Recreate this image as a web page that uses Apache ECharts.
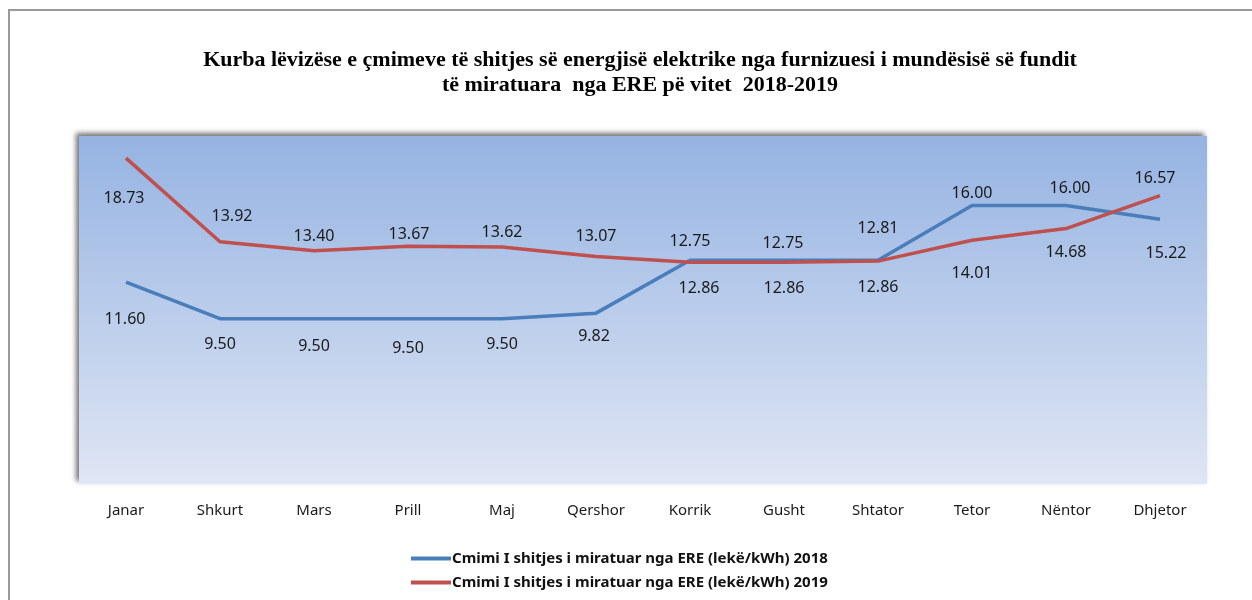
<!DOCTYPE html>
<html>
<head>
<meta charset="utf-8">
<script src="https://cdn.jsdelivr.net/npm/echarts@6/dist/echarts.min.js"></script>
<style>
  html, body { margin: 0; padding: 0; background: #ffffff; }
  #chart { width: 1252px; height: 600px; }
</style>
</head>
<body>
<div id="chart"></div>
<script>
// Months of the year (Albanian)
const months = ['Janar', 'Shkurt', 'Mars', 'Prill', 'Maj', 'Qershor', 'Korrik', 'Gusht', 'Shtator', 'Tetor', 'Nëntor', 'Dhjetor'];

// Approved sale price (lekë/kWh)
const price2018 = [11.60, 9.50, 9.50, 9.50, 9.50, 9.82, 12.86, 12.86, 12.86, 16.00, 16.00, 15.22];
const price2019 = [18.73, 13.92, 13.40, 13.67, 13.62, 13.07, 12.75, 12.75, 12.81, 14.01, 14.68, 16.57];

const seriesNames = [
  'Cmimi I shitjes i miratuar nga ERE (lekë/kWh) 2018',
  'Cmimi I shitjes i miratuar nga ERE (lekë/kWh) 2019'
];

const titleLines = [
  'Kurba lëvizëse e çmimeve të shitjes së energjisë elektrike nga furnizuesi i mundësisë së fundit',
  'të miratuara  nga ERE pë vitet  2018-2019'
];

// Label placement relative to each point, [dx, dy] in pixels
const labelShift2018 = [[-1, 37], [0, 26], [0, 28], [0, 30], [0, 26], [-2, 23], [9, 28], [0, 28], [0, 27], [0, -12], [4, -17], [6, 34]];
const labelShift2019 = [[-2, 40], [12, -25], [0, -14], [1, -12], [0, -15], [0, -20], [0, -21], [-1, -19], [0, -33], [0, 33], [0, 24], [-5, -17]];

const labelFont = { fontFamily: 'Noto Sans', fontSize: 16, color: '#1a1a1a' };

function withLabels(values, shifts) {
  return values.map((v, i) => ({ value: v, label: { offset: shifts[i] } }));
}

const chart = echarts.init(document.getElementById('chart'), null, { renderer: 'canvas' });

chart.setOption({
  backgroundColor: '#ffffff',
  animation: false,
  graphic: [
    {
      type: 'rect',
      shape: { x: 9, y: 10, width: 1300, height: 700 },
      style: { fill: 'none', stroke: '#9a9a9a', lineWidth: 2 },
      silent: true
    },
    {
      type: 'text',
      x: 640, y: 73,
      style: {
        text: titleLines.join('\n'),
        font: 'bold 22px "Liberation Serif"',
        fill: '#000000',
        textAlign: 'center',
        textVerticalAlign: 'middle',
        lineHeight: 25
      }
    }
  ],
  legend: {
    orient: 'vertical',
    left: 406,
    top: 546,
    itemWidth: 40,
    itemHeight: 4,
    itemGap: 9,
    icon: 'rect',
    textStyle: { fontFamily: 'Noto Sans', fontSize: 15, fontWeight: 'bold', color: '#111111', padding: [0, 0, 0, -4] },
    data: seriesNames
  },
  grid: {
    left: 79, right: 45, top: 136, bottom: 116,
    show: true,
    borderWidth: 0,
    backgroundColor: new echarts.graphic.LinearGradient(0, 0, 0, 1, [
      { offset: 0, color: '#95b3e2' },
      { offset: 1, color: '#dfe6f4' }
    ]),
    shadowColor: 'rgba(0,0,0,0.55)',
    shadowBlur: 5,
    shadowOffsetX: -3,
    shadowOffsetY: -3
  },
  xAxis: {
    type: 'category',
    data: months,
    boundaryGap: true,
    axisLine: { show: false },
    axisTick: { show: false },
    axisLabel: { margin: 19, fontFamily: 'Noto Sans', fontSize: 15, color: '#1a1a1a' }
  },
  yAxis: {
    type: 'value',
    min: 0, max: 20,
    show: false,
    splitLine: { show: false }
  },
  series: [
    {
      name: seriesNames[0],
      type: 'line',
      data: withLabels(price2018, labelShift2018),
      symbol: 'circle',
      symbolSize: 0,
      showSymbol: true,
      lineStyle: { color: '#4a7ebb', width: 3.5 },
      itemStyle: { color: '#4a7ebb' },
      label: {
        show: true,
        position: 'inside',
        formatter: p => p.value.toFixed(2),
        ...labelFont
      },
      z: 3
    },
    {
      name: seriesNames[1],
      type: 'line',
      data: withLabels(price2019, labelShift2019),
      symbol: 'circle',
      symbolSize: 0,
      showSymbol: true,
      lineStyle: { color: '#c0504d', width: 3.5 },
      itemStyle: { color: '#c0504d' },
      label: {
        show: true,
        position: 'inside',
        formatter: p => p.value.toFixed(2),
        ...labelFont
      },
      z: 4
    }
  ]
});
</script>
</body>
</html>
